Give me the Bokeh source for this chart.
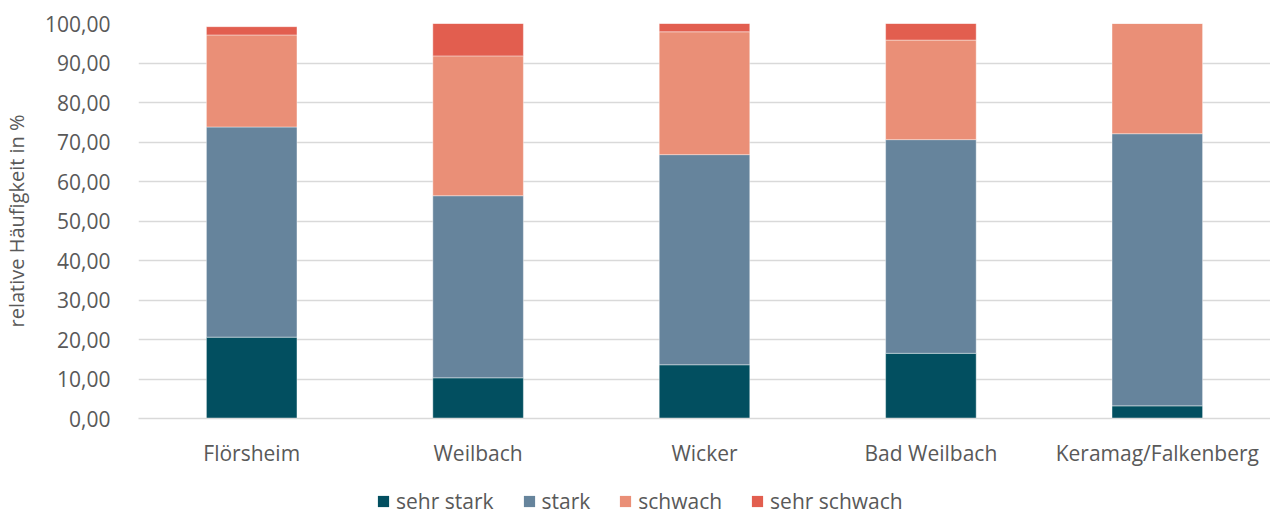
from bokeh.plotting import figure
from bokeh.layouts import column
from bokeh.models import Legend, LegendItem, FixedTicker, CustomJSTickFormatter, Range1d, FactorRange
from bokeh.embed import file_html
from bokeh.resources import INLINE

categories = ["Flörsheim", "Weilbach", "Wicker", "Bad Weilbach", "Keramag/Falkenberg"]
series = ["sehr stark", "stark", "schwach", "sehr schwach"]
sehr_stark = [20.6, 10.3, 13.6, 16.5, 3.2]
stark = [53.2, 46.1, 53.2, 54.1, 68.9]
schwach = [23.3, 35.4, 31.1, 25.2, 27.9]
sehr_schwach = [2.1, 8.2, 2.1, 4.2, 0.0]
colors = ["#024F60", "#66849C", "#EA8F77", "#E25E4F"]
y_ticks = [0, 10, 20, 30, 40, 50, 60, 70, 80, 90, 100]

data = {"cat": categories, "sehr stark": sehr_stark, "stark": stark,
        "schwach": schwach, "sehr schwach": sehr_schwach}

FONT = "Open Sans"
TXT = "#595959"

p = figure(x_range=FactorRange(*categories, range_padding=0), y_range=Range1d(0, 100),
           width=1270, height=469, output_backend="svg", toolbar_location=None,
           min_border_left=130, min_border_top=23, min_border_right=0, min_border_bottom=0)

renderers = p.vbar_stack(series, x="cat", width=0.4, source=data, color=colors,
                         line_color="white", line_alpha=0.5, line_width=0.8)

p.outline_line_color = None
p.xgrid.grid_line_color = None
p.ygrid.grid_line_color = "#D9D9D9"
p.ygrid.grid_line_width = 1.3
p.yaxis.ticker = FixedTicker(ticks=y_ticks)
p.yaxis.formatter = CustomJSTickFormatter(code="return tick.toFixed(2).replace('.', ',');")
p.yaxis.axis_line_color = None
p.yaxis.major_tick_line_color = None
p.yaxis.minor_tick_line_color = None
p.yaxis.major_label_text_font = FONT
p.yaxis.major_label_text_font_size = "21px"
p.yaxis.major_label_text_color = TXT
p.yaxis.major_label_standoff = 22
p.yaxis.axis_label = "relative Häufigkeit in %"
p.yaxis.axis_label_text_font = FONT
p.yaxis.axis_label_text_font_size = "20px"
p.yaxis.axis_label_text_font_style = "normal"
p.yaxis.axis_label_text_color = TXT
p.yaxis.axis_label_standoff = 12

p.xaxis.axis_line_color = "#D9D9D9"
p.xaxis.axis_line_width = 1.3
p.xaxis.major_tick_line_color = None
p.xaxis.minor_tick_line_color = None
p.xaxis.major_label_text_font = FONT
p.xaxis.major_label_text_font_size = "21px"
p.xaxis.major_label_text_color = TXT
p.xaxis.major_label_standoff = 14

# legend in a separate strip below the chart
lg = figure(width=1270, height=46, output_backend="svg", toolbar_location=None,
            x_range=Range1d(0, 1), y_range=Range1d(0, 1),
            min_border_left=0, min_border_right=0, min_border_top=0, min_border_bottom=0)
lg.axis.visible = False
lg.grid.visible = False
lg.outline_line_color = None
dummy = []
for c in colors:
    dummy.append(lg.vbar(x=[0.5], top=[0], bottom=[0], width=0, fill_color=c, line_alpha=0))
items = [LegendItem(label=s, renderers=[r]) for s, r in zip(series, dummy)]
legend = Legend(items=items, orientation="horizontal", location=(238, 0),
                label_text_font=FONT, label_text_font_size="21px", label_text_color=TXT,
                glyph_width=14, glyph_height=14, spacing=28, label_standoff=6,
                border_line_color=None, background_fill_alpha=0, padding=0, margin=0)
lg.add_layout(legend, "center")

open("out.html", "w").write(file_html(column(p, lg, spacing=0), INLINE))
